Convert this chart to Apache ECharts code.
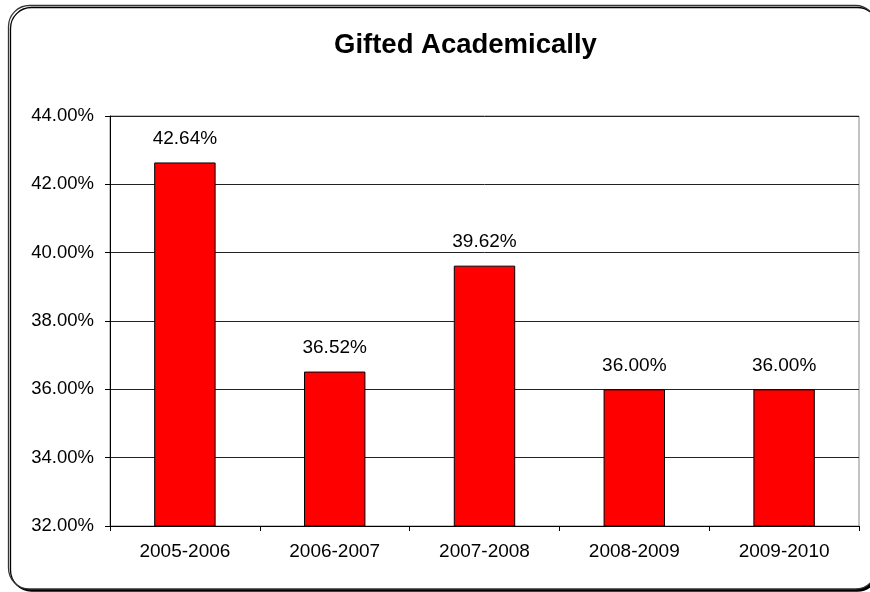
<!DOCTYPE html>
<html>
<head>
<meta charset="utf-8">
<script src="https://cdn.jsdelivr.net/npm/echarts@6/dist/echarts.min.js"></script>
<style>
  html, body { margin: 0; padding: 0; background: #fff; }
  #chart { width: 870px; height: 592px; }
</style>
</head>
<body>
<div id="chart"></div>
<script>
// School years on the category axis
const years = ['2005-2006', '2006-2007', '2007-2008', '2008-2009', '2009-2010'];
// Share of students identified as gifted academically (%)
const giftedPct = [42.64, 36.52, 39.62, 36.00, 36.00];
// Value axis range and step (%)
const yMin = 32;
const yMax = 44;
const yStep = 2;

const chart = echarts.init(document.getElementById('chart'), null, { renderer: 'canvas' });

const fontFamily = 'Liberation Sans, Arial, sans-serif';

chart.setOption({
  backgroundColor: '#fff',
  animation: false,
  title: {
    text: 'Gifted Academically',
    left: 329,
    top: 26,
    textStyle: { fontFamily, fontSize: 27.5, fontWeight: 'bold', color: '#000' }
  },
  graphic: [{
    type: 'rect',
    z: -10,
    shape: { x: 8.5, y: 5.5, width: 868, height: 583.5, r: 21 },
    style: {
      fill: '#fff',
      stroke: '#333',
      lineWidth: 1.3,
      shadowColor: '#000',
      shadowOffsetX: 2,
      shadowOffsetY: 2,
      shadowBlur: 0
    }
  }],
  grid: {
    left: 110, right: 11, top: 116, bottom: 66,
    show: true, borderColor: '#888', borderWidth: 1, backgroundColor: 'transparent'
  },
  xAxis: {
    type: 'category',
    data: years,
    axisLine: { lineStyle: { color: '#000', width: 1 } },
    axisTick: { show: true, alignWithLabel: false, length: 5, lineStyle: { color: '#000' } },
    axisLabel: { fontFamily, fontSize: 19, color: '#000', margin: 16 },
    splitLine: { show: false }
  },
  yAxis: {
    type: 'value',
    min: yMin,
    max: yMax,
    interval: yStep,
    axisLine: { show: true, lineStyle: { color: '#000', width: 1 } },
    axisTick: { show: true, length: 5, lineStyle: { color: '#000' } },
    axisLabel: {
      fontFamily, fontSize: 18.5, color: '#000', margin: 16,
      formatter: v => v.toFixed(2) + '%'
    },
    splitLine: { show: true, lineStyle: { color: '#222', width: 1 } }
  },
  series: [{
    type: 'bar',
    data: giftedPct,
    barWidth: '41%',
    itemStyle: { color: '#ff0000', borderColor: '#000', borderWidth: 1 },
    label: {
      show: true,
      position: 'top',
      distance: 14,
      fontFamily, fontSize: 19, color: '#000',
      formatter: p => p.value.toFixed(2) + '%'
    }
  }]
});
</script>
</body>
</html>
